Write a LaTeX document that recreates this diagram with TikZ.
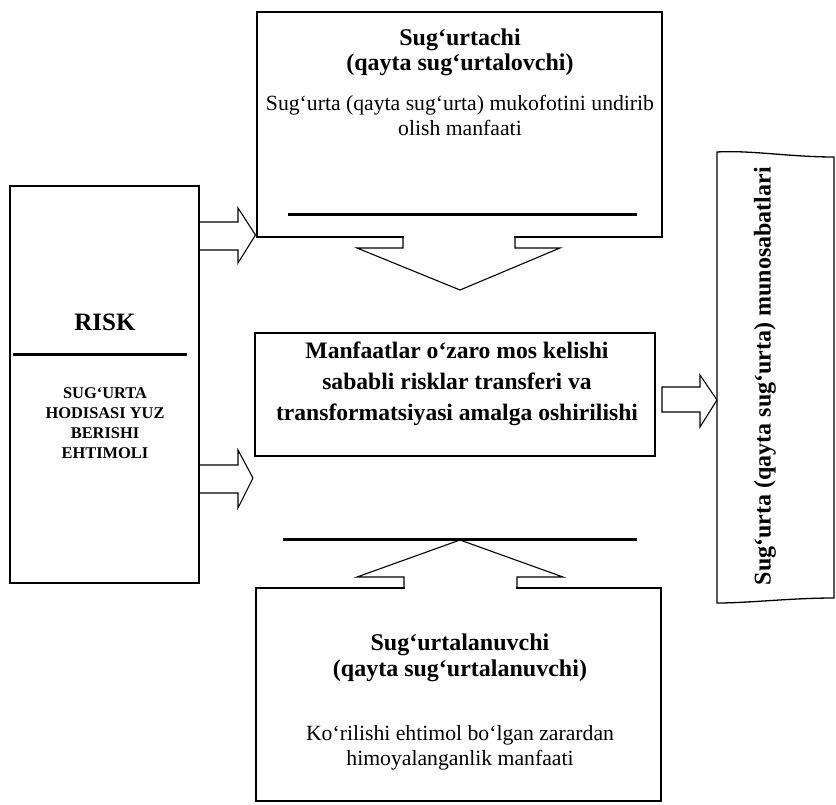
\documentclass[tikz,border=0pt]{standalone}
\usepackage{fontspec}
\setmainfont{Liberation Serif}
\begin{document}
\begin{tikzpicture}[x=1pt,y=-1pt,
  box/.style={draw, line width=1.3pt, inner sep=0pt},
  bar/.style={line width=3pt},
  blockarrow/.style={line width=1.1pt, line join=miter},
  ttl/.style={font=\bfseries\fontsize{24}{25.5}\selectfont, align=center},
  body/.style={font=\fontsize{21.7}{25}\selectfont, align=center}]
\useasboundingbox (0,0) rectangle (836,804);

% boxes
\node[box, minimum width=405pt, minimum height=225pt] (top) at (459.5,124.5) {};
\node[box, minimum width=400pt, minimum height=123pt] (mid) at (455,394.5) {};
\node[box, minimum width=405pt, minimum height=213pt] (bot) at (458.5,694.5) {};
\node[box, minimum width=189pt, minimum height=397pt] (risk) at (104.5,384.5) {};
\draw[line width=1.3pt] (717,152) .. controls (750,150) and (790,157) .. (834,157)
  -- (834,598) .. controls (790,598) and (750,603) .. (717,603) -- cycle;
\coordinate (rel) at (775.5,377.5);

% texts
\node[ttl] (toptitle) at (460,52.5) {Sug‘urtachi\\(qayta sug‘urtalovchi)};
\node[body] (topbody) at (460,115.5) {Sug‘urta (qayta sug‘urta) mukofotini undirib\\olish manfaati};
\draw[bar] (288,214) -- (637,214);

\node[font=\bfseries\fontsize{23.6}{31}\selectfont, align=center] (midtext) at (457,384)
  {Manfaatlar o‘zaro mos kelishi\\sababli risklar transferi va\\transformatsiyasi amalga oshirilishi};

\node[ttl] (bottitle) at (460,658) {Sug‘urtalanuvchi\\(qayta sug‘urtalanuvchi)};
\node[body] (botbody) at (460,747.5) {Ko‘rilishi ehtimol bo‘lgan zarardan\\himoyalanganlik manfaati};
\draw[bar] (283,539) -- (637,539);

\node[font=\bfseries\fontsize{25}{25}\selectfont] (risktitle) at (105,322) {RISK};
\draw[bar] (13,354) -- (187,354);
\node[font=\bfseries\fontsize{16.4}{20}\selectfont, align=center] (risktext) at (105,423)
  {SUG‘URTA\\HODISASI YUZ\\BERISHI\\EHTIMOLI};

\node[font=\bfseries\fontsize{24}{24}\selectfont, rotate=90] (reltext) at (765,376)
  {Sug‘urta (qayta sug‘urta) munosabatlari};

% block arrows
\draw[blockarrow] (199,222) -- (238,222) -- (238,208) -- (255.5,235) -- (238,263) -- (238,250) -- (199,250);
\draw[blockarrow] (199,465) -- (238,465) -- (238,450) -- (253,478) -- (238,508) -- (238,493) -- (199,493);
\draw[blockarrow] (662,387) -- (700,387) -- (700,375) -- (717,400) -- (700,427) -- (700,412) -- (662,412) -- cycle;

\fill[white] (404,234) rectangle (514,240);
\draw[blockarrow] (403,236.5) -- (403,248) -- (357,248) -- (460,290) -- (560,248) -- (515,248) -- (515,236.5);

\fill[white] (405,585) rectangle (516,591);
\draw[blockarrow] (404,588) -- (404,577) -- (357,577) -- (460,540) -- (563,577) -- (517,577) -- (517,588);
\end{tikzpicture}
\end{document}
